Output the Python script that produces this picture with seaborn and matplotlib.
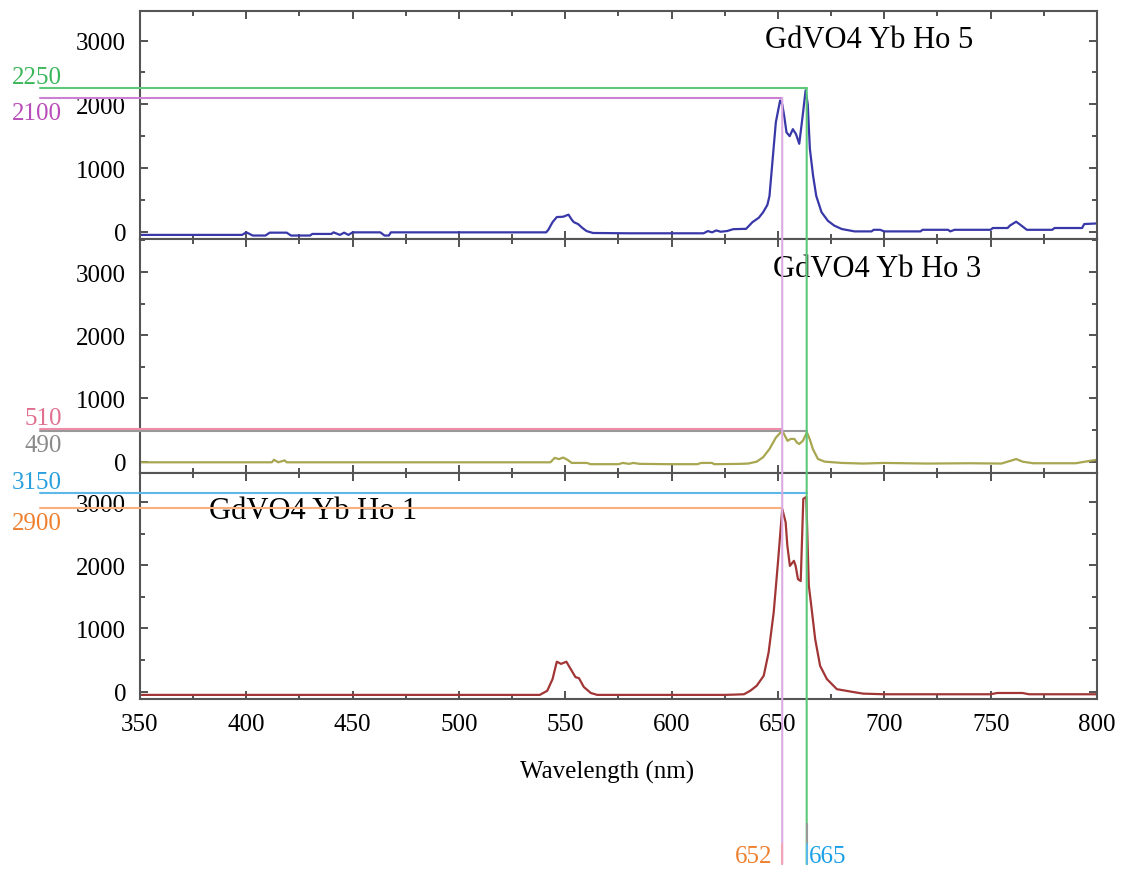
import matplotlib
matplotlib.use("Agg")
import matplotlib.pyplot as plt
import matplotlib.transforms as mtransforms
from matplotlib.lines import Line2D
from matplotlib.patches import ConnectionPatch
from matplotlib.ticker import MultipleLocator
import seaborn as sns

# --- datos ---
wl_ho5 = [350, 398, 400, 403, 409, 411, 419, 421, 430, 431, 440, 441, 444, 446, 448, 450, 463, 465, 467, 468,
          541, 542, 544, 546, 549, 551.5, 553, 554, 556, 558, 560, 563, 580, 615, 617, 619, 621, 623, 626, 629,
          635, 638, 641, 643, 645, 646, 647.5, 649, 651, 652, 653, 654, 655.5, 657, 658.5, 660, 661.5, 663, 664,
          665, 666.5, 668, 670.5, 673.5, 676.5, 680, 686, 694, 695, 698, 700, 717, 718, 730, 731, 733, 750, 751,
          758, 759, 762, 764.5, 767, 779, 780, 793, 794, 800]
int_ho5 = [-50, -50, -10, -60, -60, -15, -15, -60, -60, -35, -35, -10, -50, -15, -50, -10, -10, -60, -60, -10,
           -10, 30, 150, 230, 235, 268, 190, 150, 120, 60, 10, -20, -25, -25, 10, -10, 20, 0, 10, 40,
           45, 150, 220, 305, 420, 560, 1140, 1720, 2060, 2000, 1800, 1560, 1500, 1610, 1530, 1380, 1790, 2220, 2000,
           1300, 880, 560, 305, 170, 95, 42, 5, 5, 30, 30, 5, 5, 30, 30, 5, 30, 30, 58,
           58, 95, 157, 95, 30, 30, 58, 58, 120, 130]

wl_ho3 = [350, 412, 413, 415, 418, 419, 543, 545, 547, 549, 551, 553, 560, 562, 575, 577, 580, 582, 585, 600,
          612, 614, 619, 620, 632, 636, 640, 643, 646, 649, 652, 654.5, 656, 657.7, 659, 660, 661.7, 663.6, 665,
          666.4, 668.8, 672, 680, 690, 700, 720, 740, 755, 760, 762, 765, 770, 790, 798, 800]
int_ho3 = [-10, -10, 30, -10, 20, -10, -10, 60, 40, 65, 30, -20, -20, -40, -40, -20, -35, -20, -35, -40,
           -40, -20, -20, -40, -35, -30, 0, 70, 200, 380, 490, 330, 360, 360, 300, 280, 330, 463, 350,
           200, 42, 0, -20, -30, -20, -30, -25, -30, 20, 42, 0, -25, -25, 20, 30]

wl_ho1 = [350, 538, 541.5, 544, 546, 548, 550.5, 552.5, 554.8, 556.4, 558.7, 562, 565, 625, 630, 634, 637, 640,
          643.3, 645.6, 648, 650, 652, 653.6, 654.4, 655.6, 657.5, 658.3, 659.4, 660.7, 661.9, 663.3, 664.5, 666,
          667.5, 669.8, 673, 677.7, 685.5, 690, 700, 750, 753, 765, 768, 800]
int_ho1 = [-50, -50, 15, 200, 475, 440, 475, 360, 230, 215, 75, -20, -50, -50, -45, -40, 16, 95,
           253, 623, 1260, 2050, 2890, 2680, 2310, 1990, 2070, 1990, 1780, 1750, 3050, 3080, 1680, 1260,
           830, 410, 200, 40, -5, -30, -40, -40, -20, -20, -40, -40]

titulos = ["GdVO4 Yb Ho 5", "GdVO4 Yb Ho 3", "GdVO4 Yb Ho 1"]
colores_curva = ["#3838a8", "#a8a650", "#a23636"]

# lineas de referencia: (valor, etiqueta, color linea, color texto, x final)
marca_652 = 652
marca_665 = 663.5
ref_ho5 = [(2250, "2250", "#5cc87a", "#3cb65a", marca_665), (2100, "2100", "#cc80d4", "#b84cb8", marca_652)]
ref_ho3 = [(510, "510", "#f08ca8", "#e0708f", marca_652), (490, "490", "#999999", "#8a8a8a", marca_665)]
ref_ho1 = [(3150, "3150", "#5bb8e8", "#2aa0dc", marca_665), (2900, "2900", "#f8b080", "#ee8030", marca_652)]

sns.set_style("ticks")
plt.rcParams["font.family"] = ["Liberation Serif", "DejaVu Serif"]
plt.rcParams["text.color"] = "black"
plt.rcParams["xtick.labelcolor"] = "black"
plt.rcParams["ytick.labelcolor"] = "black"

fig = plt.figure(figsize=(11.28, 8.7), dpi=100)
ax1 = fig.add_axes([0.1241, 0.7241, 0.8484, 0.2624])
ax2 = fig.add_axes([0.1241, 0.4552, 0.8484, 0.2690])
ax3 = fig.add_axes([0.1241, 0.1954, 0.8484, 0.2598])
ejes = [ax1, ax2, ax3]
limites_y = [(-115, 3469), (-179, 3524), (-115, 3459)]
datos = [(wl_ho5, int_ho5), (wl_ho3, int_ho3), (wl_ho1, int_ho1)]
refs = [ref_ho5, ref_ho3, ref_ho1]
pos_titulo = [(644, 3025), (647.7, 3050), (382.5, 2860)]

for i, ax in enumerate(ejes):
    wl, inten = datos[i]
    sns.lineplot(x=wl, y=inten, ax=ax, color=colores_curva[i], linewidth=1.6, estimator=None, sort=False)
    ax.set_xlim(350, 800)
    ax.set_ylim(*limites_y[i])
    ax.xaxis.set_major_locator(MultipleLocator(50))
    ax.xaxis.set_minor_locator(MultipleLocator(25))
    ax.yaxis.set_major_locator(MultipleLocator(1000))
    ax.yaxis.set_minor_locator(MultipleLocator(500))
    ax.set_yticks([0, 1000, 2000, 3000])
    ax.tick_params(which="both", direction="in", top=True, right=True, width=1.3, color="#444444",
                   labelsize=18, pad=10, labelcolor="black")
    ax.tick_params(which="major", length=6)
    ax.tick_params(which="minor", length=3.5)
    for s in ax.spines.values():
        s.set_color("#555555")
        s.set_linewidth(1.5)
    ax.set_xlabel("")
    ax.set_ylabel("")
    if i < 2:
        ax.tick_params(labelbottom=False)
    ax.text(pos_titulo[i][0], pos_titulo[i][1], titulos[i], fontsize=22, va="center", ha="left", color="black")

    # lineas horizontales de referencia con su etiqueta a la izquierda
    for j, (val, etiq, col_l, col_t, x_fin) in enumerate(refs[i]):
        ax.plot([303, x_fin], [val, val], color=col_l, linewidth=1.5, clip_on=False, zorder=3)
        trans = ax.get_yaxis_transform()
        if j == 0:
            ax.text(-0.0815, val, etiq, transform=trans, color=col_t, fontsize=18, ha="right", va="bottom")
        else:
            ax.text(-0.0815, val - 60, etiq, transform=trans, color=col_t, fontsize=18, ha="right", va="top")

# lineas verticales que bajan hasta el pie de la figura
tr_bajo = mtransforms.blended_transform_factory(ax3.transData, fig.transFigure)
for x_m, y_m, col in [(marca_652, 2100, "#dcaae2"), (marca_665, 2250, "#5cc87a")]:
    con = ConnectionPatch(xyA=(x_m, y_m), coordsA=ax1.transData, xyB=(x_m, 0.0057), coordsB=tr_bajo,
                          color=col, linewidth=1.5, zorder=4)
    fig.add_artist(con)

for x_m, y0, y1, col in [(marca_652, 0.0287, 0.0057, "#f4a6b8"),
                         (marca_665, 0.0517, 0.0287, "#999999"),
                         (marca_665, 0.0287, 0.0057, "#5bb8e8")]:
    fig.add_artist(Line2D([x_m, x_m], [y0, y1], transform=tr_bajo, color=col, linewidth=1.5, zorder=5))

fig.text(647.5, 0.015, "652", transform=tr_bajo, color="#ee8030", fontsize=18, ha="right", va="center")
fig.text(664.5, 0.015, "665", transform=tr_bajo, color="#1ba0e6", fontsize=18, ha="left", va="center")

fig.text(607 / 1128, 1 - 772 / 870, "Wavelength (nm)", fontsize=18, ha="center", va="center", color="black")

fig.savefig("out.png", dpi=100)
